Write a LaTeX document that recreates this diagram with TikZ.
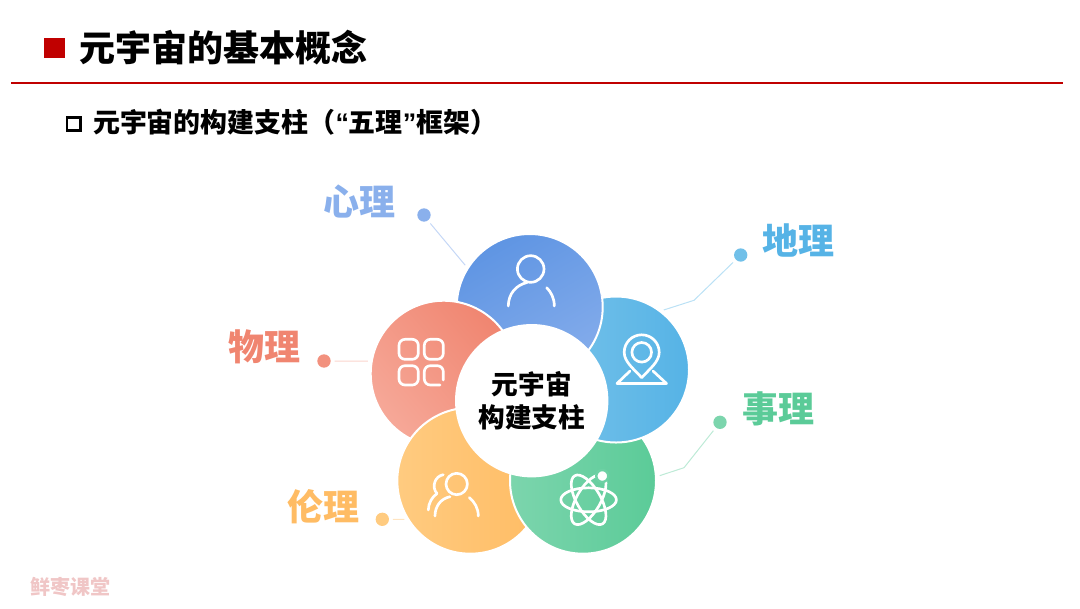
\documentclass[tikz,border=0pt]{standalone}
\usepackage{fontspec}
\setmainfont{Noto Sans CJK SC}
\newfontfamily\quotefont{Liberation Sans}
\usepackage{tikz}
\usetikzlibrary{positioning}
\definecolor{TitleRed}{HTML}{C00000}
\definecolor{XinBlue}{HTML}{5F95E3}
\definecolor{XinSoft}{HTML}{84ACEB}
\definecolor{XinText}{HTML}{8AB0EC}
\definecolor{DiBlue}{HTML}{56B3E6}
\definecolor{DiSoft}{HTML}{76C2E9}
\definecolor{ShiGreen}{HTML}{5BCB98}
\definecolor{ShiSoft}{HTML}{7CD5AD}
\definecolor{LunOrange}{HTML}{FFBC64}
\definecolor{LunSoft}{HTML}{FFCB80}
\definecolor{WuRed}{HTML}{F08570}
\definecolor{WuSoft}{HTML}{F6A898}
\definecolor{MarkPink}{HTML}{F0C6C6}
\begin{document}
\begin{tikzpicture}[
x=0.75pt,y=-0.75pt,
petal/.style={circle,draw=white,line width=1.5pt,minimum size=109.5pt,inner sep=0pt,outer sep=0pt},
dot/.style={circle,minimum size=10pt,inner sep=0pt,outer sep=0pt},
lead/.style={line width=0.75pt,shorten <=3pt,shorten >=3pt},
tag/.style={font=\bfseries\fontsize{27}{27}\selectfont,inner sep=0pt},
icon/.style={draw=white,line width=2pt,line cap=round,line join=round}
]
\useasboundingbox (0,0) rectangle (1080,608);
\node[fill=TitleRed,minimum size=15.5pt,inner sep=0pt] (mark) at (54.5,48) {};
\node[font=\bfseries\fontsize{27}{27}\selectfont,inner sep=0pt,right=10.5pt of mark] (title) {元宇宙的基本概念};
\draw[TitleRed,line width=1.5pt] (11,83) -- (1063,83);
\node[draw=black,line width=2pt,minimum size=10pt,inner sep=0pt] (submark) at (73.5,124) {};
\node[font=\bfseries\fontsize{20.2}{20.2}\selectfont,inner sep=0pt,right=8.5pt of submark,yshift=1pt] (subtitle) {元宇宙的构建支柱（{\quotefont “}五理{\quotefont ”}框架）};
\node[petal,top color=XinBlue,bottom color=XinSoft,shading angle=30] (petalxin) at (529.7,307) {};
\node[petal,top color=WuRed,bottom color=WuSoft,shading angle=-50] (petalwu) at (443.7,373.7) {};
\node[petal,left color=LunSoft,right color=LunOrange] (petallun) at (470.3,480.7) {};
\node[petal,left color=ShiSoft,right color=ShiGreen] (petalshi) at (583,480.7) {};
\node[petal,left color=DiSoft,right color=DiBlue] (petaldi) at (616,369.5) {};
\begin{scope}
\clip (616,369.5) circle[radius=75];
\node[petal,top color=XinBlue,bottom color=XinSoft,shading angle=30] (petalxintop) at (529.7,307) {};
\end{scope}
\node[circle,fill=white,minimum size=115pt,inner sep=0pt,align=center,font=\bfseries\fontsize{20}{24.5}\selectfont] (center) at (531.7,400.7) {元宇宙\\构建支柱};
\node[dot,fill=XinText] (dotxin) at (424,215) {};
\node[dot,fill=DiSoft!85!DiBlue] (dotdi) at (740.7,255) {};
\node[dot,fill=ShiSoft] (dotshi) at (720,422.3) {};
\node[dot,fill=WuRed!90] (dotwu) at (324,361) {};
\node[dot,fill=LunSoft] (dotlun) at (382.3,519.3) {};
\coordinate (benddi) at (694,300.3);
\coordinate (bendshi) at (684,467.7);
\draw[lead,XinText!50] (dotxin.-55) -- (petalxin.148);
\draw[lead,DiBlue!40] (dotdi) -- (benddi) -- (petaldi.53);
\draw[lead,ShiGreen!40] (dotshi) -- (bendshi) -- (petalshi.3);
\draw[lead,WuRed!35] (dotwu) -- (petalwu.170);
\draw[lead,LunOrange!40] (dotlun) -- (petallun.212);
\node[tag,text=XinText] (tagxin) at (359,202) {心理};
\node[tag,text=DiBlue] (tagdi) at (798,240) {地理};
\node[tag,text=ShiGreen] (tagshi) at (778,409) {事理};
\node[tag,text=WuRed] (tagwu) at (264,347) {物理};
\node[tag,text=LunOrange] (taglun) at (323,507) {伦理};
\node[text=MarkPink,font=\bfseries\fontsize{15}{15}\selectfont,inner sep=0pt] (brand) at (70,587) {鲜枣课堂};
\draw[icon] (530.7,269) circle[radius=13.3];
\draw[icon] (508.3,306) .. controls (508.3,294) and (516,285) .. (527,282.5);
\draw[icon] (546.7,287.7) .. controls (551,292) and (554.3,298) .. (554.3,306);
\draw[icon] (641.7,377.7) .. controls (634,369) and (624.2,362) .. (624.2,352.3) .. controls (624.2,342.6) and (632,334.8) .. (641.7,334.8) .. controls (651.4,334.8) and (659.2,342.6) .. (659.2,352.3) .. controls (659.2,362) and (649.4,369) .. (641.7,377.7);
\draw[icon] (641.7,352.3) circle[radius=9.8];
\draw[icon] (630,371) -- (617,383.5) -- (666.5,383.5) -- (653,371);
\draw[icon,rounded corners=4.5pt] (399,339.3) rectangle (418.3,359.3);
\draw[icon,rounded corners=4.5pt] (424.3,339.3) rectangle (443.3,359.3);
\draw[icon,rounded corners=4.5pt] (399,365.7) rectangle (418.3,385);
\draw[icon,rounded corners=4.5pt] (443.3,380) -- (443.3,365.7) -- (424.3,365.7) -- (424.3,385) -- (440,385);
\draw[icon] (456.7,484) circle[radius=10.7];
\draw[icon] (443.3,474.7) .. controls (435,476) and (431,487) .. (437,493.5) .. controls (432,497) and (428.5,503) .. (428.3,510);
\draw[icon] (435,516) .. controls (435,506) and (441,498.5) .. (450,496.7);
\draw[icon] (469.3,497.5) .. controls (474.5,502) and (478.3,508) .. (478.3,516);
\draw[icon] (588.6,499.8) circle[x radius=27.8,y radius=12];
\draw[icon,rotate around={60:(588.6,499.8)}] (588.6,499.8) circle[x radius=27.8,y radius=12];
\draw[icon,rotate around={-60:(588.6,499.8)}] (588.6,499.8) circle[x radius=27.8,y radius=12];
\fill[white,draw=ShiSoft!55!ShiGreen,line width=1.8pt] (602.3,476) circle[radius=6];
\end{tikzpicture}
\end{document}
